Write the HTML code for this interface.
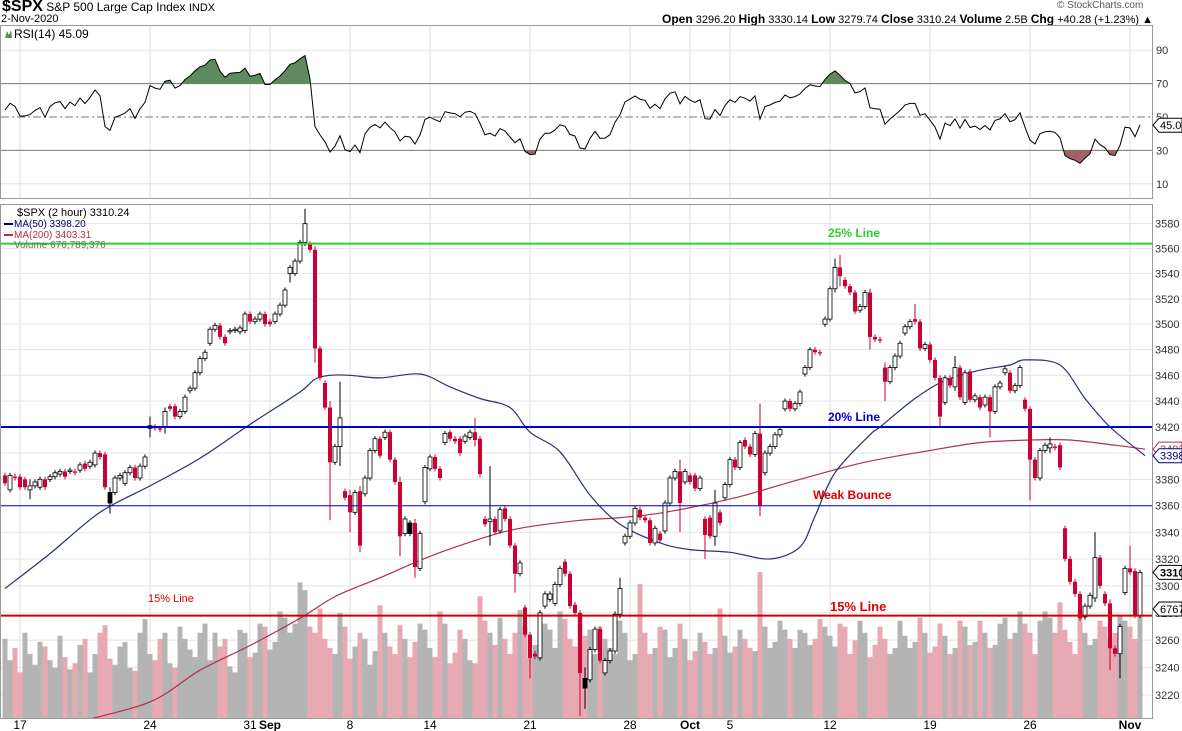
<!DOCTYPE html>
<html><head><meta charset="utf-8">
<style>
body{margin:0;background:#fff;width:1182px;height:731px;overflow:hidden;font-family:"Liberation Sans",sans-serif;}
.abs{position:absolute;white-space:nowrap;}
</style></head>
<body>
<div class="abs" style="left:2px;top:-2px;font-size:12px;color:#000"><b style="font-size:16px">$SPX</b> S&amp;P 500 Large Cap Index <span style="font-size:11px">INDX</span></div>
<div class="abs" style="left:1px;top:13px;font-size:11px">2-Nov-2020</div>
<div class="abs" style="left:1057px;top:0px;font-size:10px;color:#555">© StockCharts.com</div>
<div class="abs" style="left:662px;top:12px;font-size:11px"><b style="font-size:12px">Open</b> 3296.20 <b style="font-size:12px">High</b> 3330.14 <b style="font-size:12px">Low</b> 3279.74 <b style="font-size:12px">Close</b> 3310.24 <b style="font-size:12px">Volume</b> 2.5B <b style="font-size:12px">Chg</b> +40.28 (+1.23%) ▲</div>
<svg id="chart" width="1182" height="731" style="position:absolute;left:0;top:0" xmlns="http://www.w3.org/2000/svg" font-family="Liberation Sans, sans-serif"></svg>
<script>
// ---- data ----
const opens=[3383,3372,3382,3382,3380,3372,3375,3374,3380,3380,3382,3384,3386,3386,3386,3387,3392,3390,3391,3400,3399,3362,3370,3381,3377,3385,3389,3381,3390,3419,3420,3419,3420,3436,3436,3428,3432,3448,3450,3462,3473,3485,3496,3499,3490,3494,3495,3494,3495,3508,3502,3504,3508,3502,3502,3508,3515,3540,3540,3550,3565,3564,3559,3481,3454,3435,3393,3405,3371,3368,3355,3371,3369,3381,3402,3411,3412,3416,3395,3378,3339,3339,3347,3313,3363,3388,3397,3388,3408,3416,3411,3411,3409,3412,3416,3411,3350,3348,3350,3341,3358,3350,3330,3309,3284,3264,3250,3247,3285,3290,3287,3301,3318,3309,3286,3280,3225,3231,3253,3268,3236,3245,3252,3279,3332,3337,3347,3357,3351,3349,3332,3339,3341,3362,3381,3386,3378,3383,3383,3373,3350,3351,3337,3355,3366,3376,3395,3389,3410,3405,3399,3415,3385,3400,3405,3414,3434,3440,3434,3438,3461,3466,3480,3478,3500,3504,3528,3545,3535,3530,3525,3511,3514,3525,3490,3488,3466,3455,3466,3475,3493,3498,3504,3502,3481,3484,3472,3458,3439,3458,3451,3466,3439,3463,3441,3443,3437,3443,3432,3451,3462,3462,3448,3452,3441,3434,3395,3381,3402,3404,3405,3406,3343,3320,3303,3294,3277,3285,3291,3321,3294,3287,3254,3250,3295,3313,3311,3278];
const closes=[3377,3383,3381,3374,3374,3375,3378,3380,3374,3382,3385,3386,3382,3387,3385,3391,3388,3393,3400,3397,3374,3370,3381,3383,3385,3389,3381,3390,3397,3421,3419,3418,3432,3434,3428,3432,3443,3450,3462,3473,3478,3496,3499,3490,3485,3495,3496,3497,3508,3502,3504,3508,3500,3500,3508,3515,3527,3545,3550,3565,3580,3559,3481,3458,3435,3393,3405,3427,3366,3355,3370,3330,3381,3402,3411,3398,3416,3395,3378,3337,3350,3347,3314,3339,3389,3397,3388,3381,3415,3411,3409,3400,3413,3416,3410,3384,3346,3350,3340,3357,3350,3330,3309,3317,3264,3247,3248,3280,3294,3294,3301,3313,3309,3285,3280,3236,3232,3253,3268,3245,3245,3252,3279,3298,3337,3347,3358,3351,3349,3332,3343,3334,3362,3381,3386,3362,3386,3378,3373,3381,3338,3337,3362,3347,3376,3395,3389,3408,3405,3399,3415,3360,3400,3405,3414,3418,3440,3434,3438,3447,3466,3480,3478,3477,3504,3528,3545,3538,3530,3525,3510,3514,3525,3490,3488,3487,3455,3466,3475,3485,3498,3502,3502,3481,3484,3472,3458,3428,3458,3452,3466,3443,3462,3441,3444,3435,3443,3432,3451,3454,3465,3448,3452,3466,3434,3395,3381,3402,3406,3407,3404,3389,3320,3303,3294,3276,3285,3293,3321,3300,3287,3254,3250,3270,3313,3310,3278,3310];
const longWicks=[[5,3380,3365],[21,3374,3354],[29,3428,3412],[32,3435,3415],[57,3547,3533],[60,3592,3562],[62,3562,3470],[65,3440,3349],[67,3455,3390],[69,3372,3340],[71,3375,3325],[79,3382,3322],[82,3350,3306],[94,3427,3405],[97,3390,3330],[102,3332,3295],[105,3266,3232],[115,3282,3205],[116,3240,3210],[123,3306,3276],[135,3395,3340],[140,3352,3320],[142,3372,3330],[151,3438,3352],[166,3552,3525],[167,3555,3530],[173,3528,3480],[176,3470,3440],[182,3516,3500],[187,3460,3420],[190,3475,3448],[197,3445,3412],[205,3436,3364],[209,3412,3400],[218,3340,3288],[221,3290,3238],[223,3272,3232],[225,3330,3308]];
const volumes=[520,380,460,300,560,420,350,500,470,380,330,540,400,320,360,480,520,300,420,560,610,390,350,470,500,330,310,560,650,420,380,520,560,360,330,600,520,450,400,560,620,380,560,470,520,340,300,580,560,400,430,620,600,450,500,700,660,560,620,890,
840,600,560,720,520,460,420,690,600,390,470,560,520,350,440,740,560,470,420,610,520,400,500,620,580,460,400,700,620,360,430,580,520,380,360,800,640,560,480,660,520,420,560,710,600,400,480,560,620,580,460,700,650,520,470,690,540,580,420,600,
520,460,420,640,560,380,420,880,560,420,460,600,580,400,460,620,520,380,440,560,500,420,460,720,540,430,470,580,520,460,440,960,600,460,500,640,580,520,460,580,560,480,520,650,600,540,470,620,600,420,510,640,560,400,480,600,520,420,460,640,540,460,500,660,
560,430,470,620,540,420,460,640,600,480,500,640,560,460,480,620,660,520,560,700,620,560,420,640,700,660,560,760,580,500,420,700,560,480,520,640,600,520,560,680,640,600,520,677];
const ma50Idx=[0,9,19,29,39,49,59,62,65,69,75,83,89,95,101,105,111,117,123,131,137,145,153,159,162,166,173,175,182,188,195,201,204,211,216,221,228];
const ma50Val=[3298,3324,3355,3375,3396,3422,3447,3457,3460,3460,3458,3461,3451,3442,3435,3416,3401,3368,3346,3332,3327,3325,3320,3329,3352,3385,3414,3420,3442,3456,3464,3468,3472,3468,3442,3420,3398];
const ma200Idx=[14,29,39,49,59,66,75,85,95,103,115,123,132,146,159,172,185,195,205,213,222,228];
const ma200Val=[3200,3215,3238,3256,3276,3292,3306,3322,3335,3343,3349,3351,3355,3366,3380,3393,3402,3408,3410,3410,3406,3403];
const rsiSeedGain=[2.6];
const rsiSeedLoss=[2.2];
const priceTicks=[3220,3240,3260,3280,3300,3320,3340,3360,3380,3400,3420,3440,3460,3480,3500,3520,3540,3560,3580];
const rsiTicks=[90,70,50,30,10];
const dateLabels=["17","24","31","Sep","8","14","21","28","Oct","5","12","19","26","Nov"];
const dateIdx=[3,29,49,53,69,85,105,125,137,145,165,185,205,225];
const refLines=[[3564,"#33cc33",2,"green-25-line"],[3420,"#0000cc",2,"blue-20-line"],[3360,"#0000cc",1,"support-3360-line"],[3278,"#cc0000",2,"red-15-line"]];

// ---- scales ----
const NS="http://www.w3.org/2000/svg";
const svg=document.getElementById('chart');
const PR=1152;
function xOf(i){return 5+5*i;}
function yP(p){return 427-4447*Math.log(p/3420);}
function yR(r){return 117-(r-50)*1.67;}
function yV(v){return 718-v/6.57;}
function el(tag,attrs,parent){const e=document.createElementNS(NS,tag);for(const k in attrs)e.setAttribute(k,attrs[k]);(parent||svg).appendChild(e);return e;}

let g;
g=el('rect',{x:0.5,y:25.5,width:PR,height:173,fill:'#fff',stroke:'#999'});


g=el('rect',{x:0.5,y:204.5,width:PR,height:514,fill:'#fff',stroke:'#999'});



dateIdx.forEach((di,k)=>{
  const x=xOf(di);
  let l=el('line',{x1:x,x2:x,y1:26,y2:198,stroke:'#ddd'});
  
  
  l=el('line',{x1:x,x2:x,y1:205,y2:718,stroke:'#ddd'});
  
  
  const t=el('text',{x:x,y:729,'font-size':12,'text-anchor':'middle','font-weight':/[A-Z]/.test(dateLabels[k])?'bold':'normal',fill:'#000'});
  t.textContent=dateLabels[k];
  
  
});
priceTicks.forEach(p=>{
  const y=yP(p);
  let l=el('line',{x1:1,x2:PR,y1:y,y2:y,stroke:'#e4e4e4'});
  
  
  const t=el('text',{x:1155,y:y+4,'font-size':11,fill:'#333'});
  t.textContent=p;
  
  
});
rsiTicks.forEach(r=>{
  const y=yR(r);
  const st=(r==70||r==30||r==50)?'#777':'#e4e4e4';
  let l=el('line',{x1:1,x2:PR,y1:y,y2:y,stroke:st});
  if(r==50)l.setAttribute('stroke-dasharray','8,3,2,3');
  
  
  const t=el('text',{x:1156,y:y+4,'font-size':11,fill:'#333'});
  t.textContent=r;
  
  
});

const clip=el('clipPath',{id:'pc'});el('rect',{x:1,y:205,width:PR-1,height:513},clip);
const vg=el('g',{'clip-path':'url(#pc)'});
volumes.forEach((v,i)=>{
  if(i>=closes.length)return;
  const down=i>0&&closes[i]<closes[i-1];
  const r=el('rect',{x:xOf(i)-2.5,y:yV(v),width:5,height:718-yV(v),fill:down?'#e8aab2':'#b4b4b4'},vg);
  
  
});

refLines.forEach(([p,c,w,n])=>{
  const l=el('line',{x1:1,x2:PR,y1:yP(p),y2:yP(p),stroke:c,'stroke-width':w});
  
  
});

// smooth MA paths (monotone-ish cardinal through data points)
function maPath(idx,val,col,name){
  const P=idx.map((ix,k)=>[xOf(ix),yP(val[k])]);
  let d='M'+P[0][0].toFixed(1)+','+P[0][1].toFixed(1);
  for(let k=0;k<P.length-1;k++){
    const p0=P[Math.max(0,k-1)],p1=P[k],p2=P[k+1],p3=P[Math.min(P.length-1,k+2)];
    const t=0.16;
    const c1=[p1[0]+(p2[0]-p0[0])*t,p1[1]+(p2[1]-p0[1])*t];
    const c2=[p2[0]-(p3[0]-p1[0])*t,p2[1]-(p3[1]-p1[1])*t];
    d+=' C'+c1.map(v=>v.toFixed(1)).join(',')+' '+c2.map(v=>v.toFixed(1)).join(',')+' '+p2.map(v=>v.toFixed(1)).join(',');
  }
  const p=el('path',{d:d,fill:'none',stroke:col,'stroke-width':1.2},vg);
  
  
}
maPath(ma200Idx,ma200Val,'#b0304a','ma200-line');
maPath(ma50Idx,ma50Val,'#28307a','ma50-line');

closes.forEach((c,i)=>{
  const o=opens[i];
  let hi=Math.max(o,c)+2,lo=Math.min(o,c)-2;
  longWicks.forEach(w=>{if(w[0]===i){hi=w[1];lo=w[2];}});
  const x=xOf(i);
  const up=c>=o;
  const prevDown=i>0&&c<closes[i-1];
  const col=up?'#000':'#cc0033';
  const w=el('line',{x1:x,x2:x,y1:yP(hi),y2:yP(lo),stroke:col,'stroke-width':1},vg);
  
  
  const yt=yP(Math.max(o,c)),yb=yP(Math.min(o,c));
  const b=el('rect',{x:x-2,y:yt,width:4,height:Math.max(1,yb-yt),fill:up?(prevDown?'#000':'#fff'):'#cc0033',stroke:col,'stroke-width':up?0.8:0},vg);
  
  
});

// RSI (Wilder 14) from closes, seeded with prior averages
const rsi=[];
(function(){let ag=rsiSeedGain[0],al=rsiSeedLoss[0];const n=14;
  rsi[0]=100-100/(1+ag/al);
  for(let i=1;i<closes.length;i++){const d=closes[i]-closes[i-1];
    ag=(ag*(n-1)+Math.max(d,0))/n;al=(al*(n-1)+Math.max(-d,0))/n;
    rsi[i]=al===0?100:100-100/(1+ag/al);}})();
const rc=el('clipPath',{id:'rc'});el('rect',{x:1,y:26,width:PR-1,height:172},rc);
const rg=el('g',{'clip-path':'url(#rc)'});
const pts=rsi.map((r,i)=>[xOf(i),yR(r)]);
const lineD=pts.map((p,k)=>(k?'L':'M')+p[0].toFixed(1)+','+p[1].toFixed(1)).join(' ');
const c70=el('clipPath',{id:'c70'});el('rect',{x:0,y:0,width:PR,height:yR(70)},c70);
const c30=el('clipPath',{id:'c30'});el('rect',{x:0,y:yR(30),width:PR,height:100},c30);
let f=el('path',{d:lineD+' L'+xOf(rsi.length-1)+','+yR(70)+' L'+xOf(0)+','+yR(70)+'Z',fill:'#5e8a5e',stroke:'none','clip-path':'url(#c70)'},rg);


f=el('path',{d:lineD+' L'+xOf(rsi.length-1)+','+yR(30)+' L'+xOf(0)+','+yR(30)+'Z',fill:'#a06262',stroke:'none','clip-path':'url(#c30)'},rg);


f=el('path',{d:lineD,fill:'none',stroke:'#000','stroke-width':1},rg);



function txt(x,y,s,col,size,bold,name){const t=el('text',{x:x,y:y,fill:col,'font-size':size,'font-weight':bold?'bold':'normal'});t.textContent=s;return t;}
txt(828,237,'25% Line','#33cc33',12,true,'label-25-line');
txt(828,421,'20% Line','#0000cc',12,true,'label-20-line');
txt(813,499,'Weak Bounce','#dd0000',12,true,'label-weak-bounce');
txt(830,611,'15% Line','#dd0000',13,true,'label-15-line');
txt(148,602,'15% Line','#dd0000',11,false,'label-15-line-left');
txt(14,38,'RSI(14) 45.09','#000',12,false,'rsi-legend');
el('path',{d:'M5,38 L7,31 L9,35 L11,30 L12,38Z',fill:'#5e8a5e'});
txt(17,216,'$SPX (2 hour) 3310.24','#000',11,false,'price-legend');
txt(14,227,'MA(50) 3398.20','#000080',10,false,'ma50-legend');
txt(14,238,'MA(200) 3403.31','#b0304a',10,false,'ma200-legend');
txt(14,248,'Volume 676,789,376','#5a7a5a',10,false,'volume-legend');
el('line',{x1:4,x2:13,y1:224,y2:224,stroke:'#000080','stroke-width':2});
el('line',{x1:4,x2:13,y1:235,y2:235,stroke:'#b0304a','stroke-width':2});
function tag(y,s,bold,col,name){
  const p=el('path',{d:`M1153,${y} l6,-7 h23 v14 h-23 z`,fill:'#fff',stroke:col});
  
  
  txt(1160,y+4,s,col,11,bold,name);
}
tag(yR(45.09),'45.09',false,'#000','rsi-value-tag');
tag(yP(3403),'3403',false,'#b0304a','ma200-tag');
tag(yP(3398),'3398.2',false,'#000080','ma50-tag');
tag(yP(3310),'3310.2',true,'#000','close-tag');
tag(609,'676789',false,'#000','volume-tag');
</script>
</body></html>
